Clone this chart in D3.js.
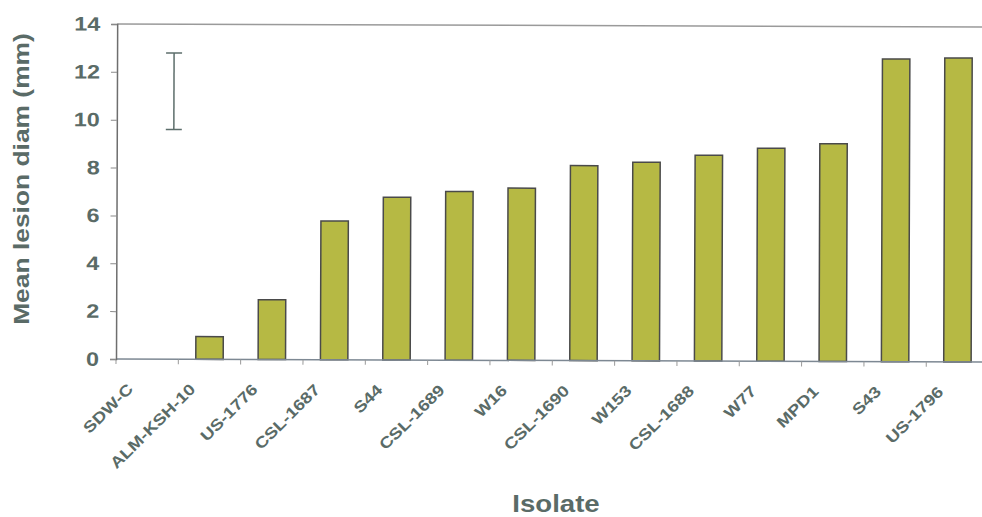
<!DOCTYPE html>
<html>
<head>
<meta charset="utf-8">
<script src="https://cdn.jsdelivr.net/npm/d3@7/dist/d3.min.js"></script>
<style>
  html, body { margin: 0; padding: 0; background: #fff; }
  svg { display: block; }
  text { font-family: "Liberation Sans", Arial, sans-serif; font-weight: bold; fill: #5a6b67; }
</style>
</head>
<body>
<svg id="chart" width="982" height="517"></svg>
<script>
// Isolates, ordered by mean lesion diameter
const isolates = ["SDW-C", "ALM-KSH-10", "US-1776", "CSL-1687", "S44", "CSL-1689", "W16",
                  "CSL-1690", "W153", "CSL-1688", "W77", "MPD1", "S43", "US-1796"];
const lesionMeans = [0, 0.95, 2.5, 5.8, 6.8, 7.05, 7.2, 8.15, 8.3, 8.6, 8.9, 9.1, 12.65, 12.7];
const yTicks = [0, 2, 4, 6, 8, 10, 12, 14];
// Least significant difference bar drawn in the upper left corner
const lsdLow = 9.6;
const lsdHigh = 12.8;

const svg = d3.select("#chart");
const plotLeft = 116, plotRight = 988.6, plotTop = 24, plotBottom = 359;
const textStretch = 1.2;

const x = d3.scaleBand().domain(isolates).range([plotLeft, plotRight]).padding(0);
const y = d3.scaleLinear().domain([0, 14]).range([plotBottom, plotTop]);

// whole plot is drawn a touch off-level
const g = svg.append("g").attr("transform", `rotate(0.2, ${plotLeft}, ${plotBottom})`);

// top frame line
g.append("line")
  .attr("x1", plotLeft).attr("x2", 982)
  .attr("y1", y(14)).attr("y2", y(14))
  .attr("stroke", "#9a9a9a").attr("stroke-width", 1.5);

// bars
const barFrac = 0.44;
g.selectAll("rect.bar")
  .data(isolates.map((d, i) => ({ name: d, v: lesionMeans[i] })).filter(d => d.v > 0))
  .join("rect")
  .attr("class", "bar")
  .attr("x", d => x(d.name) + x.bandwidth() * (1 - barFrac) / 2)
  .attr("width", x.bandwidth() * barFrac)
  .attr("y", d => y(d.v))
  .attr("height", d => y(0) - y(d.v))
  .attr("fill", "#b6b944")
  .attr("stroke", "#4a4a4a")
  .attr("stroke-width", 1.5);

// x axis: baseline with ticks at category boundaries
g.append("line")
  .attr("x1", plotLeft).attr("x2", 982)
  .attr("y1", y(0)).attr("y2", y(0))
  .attr("stroke", "#7d8893").attr("stroke-width", 1.5);
const bounds = isolates.map(d => x(d)).concat([plotRight]);
g.selectAll("line.xtick")
  .data(bounds)
  .join("line")
  .attr("class", "xtick")
  .attr("x1", d => d).attr("x2", d => d)
  .attr("y1", y(0)).attr("y2", y(0) + 5)
  .attr("stroke", "#9a9a9a").attr("stroke-width", 1);

// x labels, rotated
g.selectAll("text.xlab")
  .data(isolates)
  .join("text")
  .attr("class", "xlab")
  .attr("transform", d => `translate(${x(d) + x.bandwidth() / 2 - 13}, ${y(0) + 31}) rotate(-45) scale(${textStretch},1)`)
  .attr("text-anchor", "end")
  .style("font-size", "15.5px")
  .text(d => d);

// y axis
const yAxis = g.append("g")
  .attr("transform", `translate(${plotLeft},0)`)
  .call(d3.axisLeft(y).tickValues(yTicks).tickSize(6).tickPadding(14).tickFormat(d3.format("d")));
yAxis.select(".domain").attr("stroke", "#6e6e6e").attr("stroke-width", 1.5);
yAxis.selectAll(".tick line").attr("stroke", "#8a8a8a");
yAxis.selectAll(".tick text")
  .attr("transform", `scale(${textStretch},1)`)
  .attr("x", -(6 + 11) / textStretch)
  .style("font-size", "19.5px")
  .style("font-family", "'Liberation Sans', Arial, sans-serif")
  .attr("fill", "#5a6b67");

// LSD error bar
const lsdX = x(isolates[0]) + x.bandwidth() * 0.915;
const capW = 8;
g.append("line")
  .attr("x1", lsdX).attr("x2", lsdX)
  .attr("y1", y(lsdHigh)).attr("y2", y(lsdLow))
  .attr("stroke", "#5d6e6b").attr("stroke-width", 1.5);
g.selectAll("line.cap")
  .data([lsdHigh, lsdLow])
  .join("line")
  .attr("class", "cap")
  .attr("x1", lsdX - capW).attr("x2", lsdX + capW)
  .attr("y1", d => y(d)).attr("y2", d => y(d))
  .attr("stroke", "#5d6e6b").attr("stroke-width", 1.5);

// axis titles
svg.append("text")
  .attr("transform", `translate(29, 179) rotate(-90) scale(${textStretch},1)`)
  .attr("text-anchor", "middle")
  .style("font-size", "22px")
  .text("Mean lesion diam (mm)");

svg.append("text")
  .attr("transform", `translate(556, 512) scale(${textStretch},1)`)
  .attr("text-anchor", "middle")
  .style("font-size", "23px")
  .text("Isolate");
</script>
</body>
</html>
